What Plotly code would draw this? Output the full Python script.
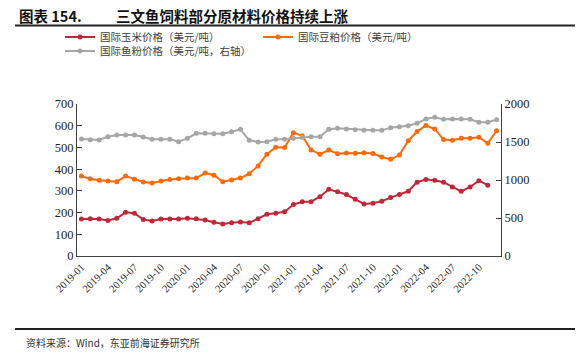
import plotly.graph_objects as go

months = [f"{y}-{m:02d}" for y in range(2019, 2023) for m in range(1, 13)]
tick_labels = months[::3][:16]

corn = [170, 172, 170, 164, 174, 201, 197, 168, 161, 170, 170, 170, 174, 171, 166, 155,
        147, 153, 157, 153, 172, 192, 197, 204, 237, 250, 250, 273, 307, 296, 283, 261,
        240, 243, 252, 269, 283, 298, 340, 352, 349, 340, 318, 298, 318, 347, 326]
soymeal = [368, 356, 349, 345, 342, 368, 353, 341, 336, 345, 352, 356, 359, 359, 382, 372,
           342, 350, 359, 379, 415, 469, 501, 500, 568, 553, 488, 469, 488, 471, 474, 473,
           475, 472, 456, 445, 465, 531, 573, 601, 585, 536, 533, 542, 542, 547, 519, 577]
fishmeal = [1539, 1531, 1526, 1570, 1592, 1592, 1592, 1566, 1535, 1535, 1535, 1504, 1548, 1614, 1614, 1610,
            1610, 1636, 1667, 1522, 1500, 1504, 1535, 1535, 1548, 1561, 1570, 1570, 1667, 1680, 1671, 1662,
            1653, 1653, 1653, 1689, 1702, 1715, 1746, 1803, 1825, 1798, 1803, 1803, 1798, 1759, 1759, 1794]

names = ["国际玉米价格（美元/吨）", "国际豆粕价格（美元/吨）", "国际鱼粉价格（美元/吨，右轴）"]
colors = ["#C0283A", "#FF6A0A", "#A6A6A6"]

fig = go.Figure()
fig.add_trace(go.Scatter(x=months[:len(corn)], y=corn, name=names[0], mode="lines+markers",
                         line=dict(color=colors[0], width=2), marker=dict(size=5, color=colors[0])))
fig.add_trace(go.Scatter(x=months, y=soymeal, name=names[1], mode="lines+markers",
                         line=dict(color=colors[1], width=2), marker=dict(size=5, color=colors[1])))
fig.add_trace(go.Scatter(x=months, y=fishmeal, name=names[2], mode="lines+markers", yaxis="y2",
                         legend="legend2",
                         line=dict(color=colors[2], width=2), marker=dict(size=5, color=colors[2])))

serif = "Liberation Serif"
cjk = "Noto Sans CJK SC"

# plot area in page pixels; the page body margin is removed so the figure fills the window
PL, PR, PT, PB = 77, 501, 104, 256
W, H = 582, 360
PW, PH = PR - PL, PB - PT


def px(x):
    return (x - PL) / PW


def py(y):
    return (PB - y) / PH


legend_font = dict(family=cjk, size=10.5, color="#404040")

fig.update_layout(
    width=W, height=H,
    margin=dict(l=PL, r=W - PR, t=PT, b=H - PB, autoexpand=False),
    paper_bgcolor="white", plot_bgcolor="white",
    showlegend=True,
    legend=dict(orientation="h", x=px(60), xanchor="left", y=py(37), yanchor="middle",
                font=legend_font, entrywidth=153, entrywidthmode="pixels", itemwidth=30,
                bgcolor="rgba(0,0,0,0)"),
    legend2=dict(orientation="h", x=px(60), xanchor="left", y=py(51), yanchor="middle",
                 font=legend_font, itemwidth=30, bgcolor="rgba(0,0,0,0)"),
    xaxis=dict(type="category", categoryorder="array", categoryarray=months,
               range=[-0.5, 47.5], showline=True, linecolor="#404040", linewidth=1.2,
               ticks="", tickmode="array", tickvals=tick_labels, ticktext=tick_labels,
               tickangle=-45, tickfont=dict(family=serif, size=10.5, color="#222"),
               showgrid=False, zeroline=False),
    yaxis=dict(range=[0, 700], dtick=100, showline=True, linecolor="#404040", linewidth=1.2,
               ticks="inside", ticklen=5, tickcolor="#404040", showgrid=False, zeroline=False,
               tickfont=dict(family=serif, size=12.5, color="#222")),
    yaxis2=dict(range=[0, 2000], dtick=500, overlaying="y", side="right", showline=True,
                linecolor="#404040", linewidth=1.2, ticks="inside", ticklen=5, tickcolor="#404040",
                showgrid=False, zeroline=False,
                tickfont=dict(family=serif, size=12.5, color="#222")),
    annotations=[
        dict(text="<b>图表 154.</b>", xref="paper", yref="paper", x=px(17),
             y=py(15), xanchor="left", yanchor="middle", showarrow=False,
             font=dict(family=cjk, size=14.5, color="#111")),
        dict(text="<b>三文鱼饲料部分原材料价格持续上涨</b>", xref="paper", yref="paper",
             x=px(114), y=py(15), xanchor="left", yanchor="middle",
             showarrow=False, font=dict(family=cjk, size=14.5, color="#111")),
        dict(text="资料来源：Wind，东亚前海证券研究所", xref="paper", yref="paper",
             x=px(24), y=py(342), xanchor="left", yanchor="middle",
             showarrow=False, font=dict(family=cjk, size=10, color="#333")),
    ],
    shapes=[
        dict(type="line", xref="paper", yref="paper", x0=px(15), x1=px(575),
             y0=py(25.5), y1=py(25.5), line=dict(color="#222", width=1.8)),
        dict(type="line", xref="paper", yref="paper", x0=px(15), x1=px(575),
             y0=py(329), y1=py(329), line=dict(color="#222", width=1.8)),
    ],
)

fig.write_html("out.html", config={"displayModeBar": False},
               post_script="document.body.style.margin='0';")
